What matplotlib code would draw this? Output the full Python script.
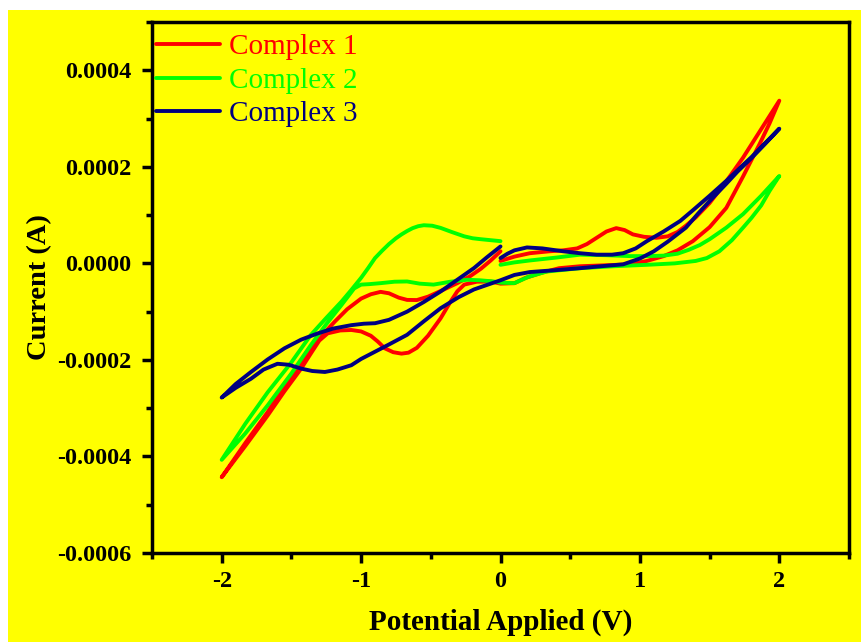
import numpy as np
import matplotlib.pyplot as plt
from matplotlib.patches import Rectangle
from matplotlib.ticker import MultipleLocator, FuncFormatter

# potential (V) and current (A), in scan order:
# 0 -> +2 -> -2 -> 0
c1_v = [0.0, 0.1, 0.21, 0.35, 0.45, 0.55, 0.62, 0.69, 0.76, 0.83, 0.89, 0.95, 1.03, 1.12, 1.2, 1.27, 1.33, 1.4, 1.5, 1.62, 1.74, 1.87, 2.0,
        1.93, 1.86, 1.74, 1.62, 1.5, 1.38, 1.27, 1.17, 1.05, 0.93, 0.75, 0.57, 0.42, 0.29, 0.18, 0.1,
        0.0, -0.07, -0.17, -0.26, -0.31, -0.36, -0.43, -0.52, -0.6, -0.66, -0.71, -0.77, -0.83, -0.88, -0.93, -1.0, -1.07, -1.15, -1.24, -1.3, -1.35, -1.43, -1.55, -1.67, -1.83, -2.0,
        -1.83, -1.67, -1.55, -1.43, -1.36, -1.3, -1.19, -1.1, -1.0, -0.93, -0.86, -0.8, -0.73, -0.67, -0.6, -0.52, -0.42, -0.31, -0.22, -0.14, -0.07, 0.0]
c1_i = [0.000005, 0.000014, 0.000021, 0.000025, 0.000027, 0.000031, 0.000040, 0.000053, 0.000066, 0.000073, 0.000069, 0.000060, 0.000055, 0.000053, 0.000056, 0.000065, 0.000078, 0.000095, 0.000125, 0.000170, 0.000219, 0.000278, 0.000337,
        0.000290, 0.000248, 0.000180, 0.000115, 0.000075, 0.000046, 0.000027, 0.000015, 0.000005, -0.000002, -0.000004, -0.000006, -0.000010, -0.000020, -0.000030, -0.000041,
        -0.000042, -0.0000375, -0.000038, -0.000044, -0.000058, -0.000080, -0.000114, -0.000150, -0.000175, -0.000185, -0.000187, -0.000184, -0.000176, -0.000162, -0.000150, -0.000141, -0.000138, -0.000139, -0.000145, -0.000160, -0.000182, -0.000218, -0.000265, -0.000315, -0.000378, -0.000443,
        -0.000372, -0.000308, -0.000254, -0.000205, -0.000175, -0.000155, -0.000121, -0.000095, -0.000073, -0.000064, -0.000059, -0.000062, -0.000071, -0.0000757, -0.000076, -0.000069, -0.000056, -0.000041, -0.000027, -0.000011, 0.000006, 0.000025]

c2_v = [0.0, 0.1, 0.21, 0.4, 0.57, 0.75, 0.93, 1.05, 1.17, 1.27, 1.35, 1.43, 1.5, 1.62, 1.74, 1.87, 2.0,
        1.93, 1.87, 1.8, 1.74, 1.66, 1.57, 1.48, 1.4, 1.25, 1.05, 0.81, 0.57, 0.33, 0.2, 0.1,
        0.0, -0.05, -0.15, -0.24, -0.36, -0.48, -0.58, -0.67, -0.76, -0.86, -0.94, -1.0, -1.05, -1.14, -1.25, -1.36, -1.5, -1.67, -1.83, -2.0,
        -1.83, -1.67, -1.5, -1.36, -1.25, -1.14, -1.07, -1.0, -0.95, -0.9, -0.85, -0.8, -0.75, -0.71, -0.67, -0.63, -0.59, -0.55, -0.49, -0.43, -0.35, -0.26, -0.2, -0.14, -0.07, 0.0]
c2_i = [-0.000003, 0.000002, 0.000006, 0.000012, 0.000018, 0.000017, 0.000015, 0.000015, 0.000016, 0.000020, 0.000028, 0.000038, 0.000050, 0.000074, 0.000102, 0.000140, 0.000181,
        0.000150, 0.000120, 0.000094, 0.000074, 0.000048, 0.000025, 0.000011, 0.000005, 0.000000, -0.000003, -0.000006, -0.000010, -0.000017, -0.000028, -0.000041,
        -0.000040, -0.0000375, -0.000035, -0.000034, -0.000038, -0.000044, -0.000042, -0.0000375, -0.000038, -0.000041, -0.000043, -0.000044, -0.000052, -0.000086, -0.000126, -0.000169, -0.000228, -0.000294, -0.000352, -0.000407,
        -0.000332, -0.000267, -0.000205, -0.000148, -0.000113, -0.000079, -0.000055, -0.000030, -0.000010, 0.000011, 0.000026, 0.000040, 0.000052, 0.000060, 0.000067, 0.000073, 0.000077, 0.000079, 0.000078, 0.0000735, 0.000065, 0.000056, 0.000052, 0.000050, 0.000048, 0.000046]

c3_v = [0.0, 0.05, 0.1, 0.19, 0.3, 0.45, 0.57, 0.69, 0.8, 0.88, 0.97, 1.05, 1.17, 1.29, 1.38, 1.5, 1.62, 1.8, 2.0,
        1.9, 1.8, 1.7, 1.62, 1.5, 1.42, 1.33, 1.2, 1.1, 1.0, 0.88, 0.72, 0.57, 0.4, 0.21, 0.1, 0.0, -0.1, -0.19,
        -0.3, -0.43, -0.55, -0.67, -0.8, -0.9, -1.0, -1.07, -1.17, -1.26, -1.35, -1.43, -1.52, -1.6, -1.7, -1.79, -1.9, -2.0,
        -1.9, -1.79, -1.67, -1.55, -1.43, -1.31, -1.2, -1.07, -0.98, -0.9, -0.8, -0.67, -0.55, -0.43, -0.31, -0.19, -0.1, 0.0]
c3_i = [0.000011, 0.000020, 0.000027, 0.000033, 0.000031, 0.000025, 0.000021, 0.000018, 0.000018, 0.000021, 0.000031, 0.000046, 0.000066, 0.000088, 0.000110, 0.000140, 0.000171, 0.000220, 0.000279,
        0.000248, 0.000218, 0.000190, 0.000165, 0.000129, 0.000104, 0.000074, 0.000045, 0.000025, 0.000010, -0.000002, -0.000006, -0.000010, -0.000014, -0.000018, -0.000024, -0.000035, -0.000045, -0.000054,
        -0.000070, -0.000093, -0.000120, -0.000148, -0.000168, -0.000183, -0.000198, -0.000211, -0.000220, -0.000225, -0.000223, -0.000218, -0.000210, -0.000208, -0.000220, -0.000239, -0.000258, -0.000278,
        -0.000250, -0.000225, -0.000199, -0.000176, -0.000158, -0.000145, -0.000135, -0.000128, -0.000125, -0.000124, -0.000117, -0.000100, -0.000080, -0.0000583, -0.000034, -0.0000097, 0.000012, 0.000035]

labels = ['Complex 1', 'Complex 2', 'Complex 3']
colors = ['#ff0000', '#00ff00', '#000080']

plt.rcParams['font.family'] = ['Liberation Serif', 'DejaVu Serif']

fig = plt.figure(figsize=(8.61, 6.42), dpi=100, facecolor='white')
fig.patches.append(Rectangle((8 / 861, 0), 1, 632 / 642, transform=fig.transFigure,
                             facecolor='#ffff00', edgecolor='none', zorder=-10))
ax = fig.add_axes([152 / 861, 89 / 642, 697 / 861, 531 / 642])
ax.set_facecolor('#ffff00')

for v, i, lab, col in zip([c1_v, c2_v, c3_v], [c1_i, c2_i, c3_i], labels, colors):
    ax.plot(v, i, color=col, lw=2.8, label=lab, solid_capstyle='round', solid_joinstyle='round')

ax.set_xlim(-2.5, 2.5)
ax.set_ylim(-0.0006, 0.0005)
ax.xaxis.set_major_locator(MultipleLocator(1))
ax.xaxis.set_minor_locator(MultipleLocator(0.5))
ax.yaxis.set_major_locator(MultipleLocator(0.0002))
ax.yaxis.set_minor_locator(MultipleLocator(0.0001))
ax.yaxis.set_major_formatter(FuncFormatter(lambda y, p: '0.0000' if abs(y) < 1e-12 else '%.4f' % y))
ax.xaxis.set_major_formatter(FuncFormatter(lambda x, p: '%d' % round(x)))

for s in ax.spines.values():
    s.set_linewidth(2.5)
ax.tick_params(which='major', direction='out', length=7, width=2.5, labelsize=17.5)
ax.tick_params(which='minor', direction='out', length=4, width=2.5)
ax.tick_params(axis='x', which='major', pad=6)
ax.tick_params(axis='y', which='major', pad=8)
for t in ax.get_xticklabels() + ax.get_yticklabels():
    t.set_fontweight('bold')

ax.set_xlabel('Potential Applied (V)', fontsize=21, fontweight='bold')
ax.set_ylabel('Current (A)', fontsize=20.5, fontweight='bold')
ax.xaxis.set_label_coords(0.5, -0.105)
ax.yaxis.set_label_coords(-0.143, 0.5)

leg = ax.legend(loc='upper left', bbox_to_anchor=(-0.011, 1.0), frameon=False, fontsize=21,
                handlelength=2.2, handletextpad=0.3, labelspacing=0.25, borderaxespad=0.1,
                borderpad=0.3)
for txt, col in zip(leg.get_texts(), colors):
    txt.set_color(col)

fig.savefig('out.png', dpi=100, facecolor=fig.get_facecolor())
